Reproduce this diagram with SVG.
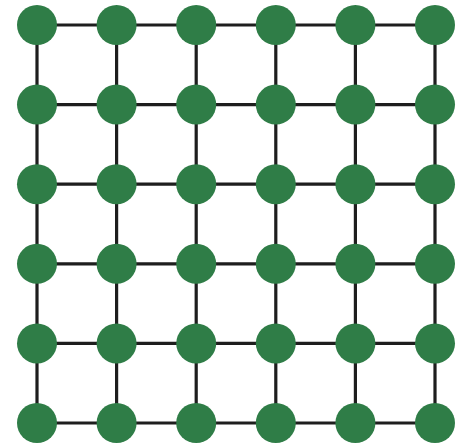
<svg xmlns="http://www.w3.org/2000/svg" width="472" height="448" viewBox="0 0 472 448">
<style>
.e{stroke:#1e1e1e;stroke-width:3.2;fill:none}
.n{fill:#2f7d47}
</style>
<rect width="472" height="448" fill="#ffffff"/>
<g id="connectors">
<path class="e" d="M37 25H435M37 104.6H435M37 184.2H435M37 263.8H435M37 343.4H435M37 423H435"/>
<path class="e" d="M37 25V423M116.6 25V423M196.2 25V423M275.8 25V423M355.4 25V423M435 25V423"/>
</g>
<g id="nodes">
<g id="n00"><circle class="n" cx="37" cy="25" r="20"/></g>
<g id="n01"><circle class="n" cx="116.6" cy="25" r="20"/></g>
<g id="n02"><circle class="n" cx="196.2" cy="25" r="20"/></g>
<g id="n03"><circle class="n" cx="275.8" cy="25" r="20"/></g>
<g id="n04"><circle class="n" cx="355.4" cy="25" r="20"/></g>
<g id="n05"><circle class="n" cx="435" cy="25" r="20"/></g>
<g id="n10"><circle class="n" cx="37" cy="104.6" r="20"/></g>
<g id="n11"><circle class="n" cx="116.6" cy="104.6" r="20"/></g>
<g id="n12"><circle class="n" cx="196.2" cy="104.6" r="20"/></g>
<g id="n13"><circle class="n" cx="275.8" cy="104.6" r="20"/></g>
<g id="n14"><circle class="n" cx="355.4" cy="104.6" r="20"/></g>
<g id="n15"><circle class="n" cx="435" cy="104.6" r="20"/></g>
<g id="n20"><circle class="n" cx="37" cy="184.2" r="20"/></g>
<g id="n21"><circle class="n" cx="116.6" cy="184.2" r="20"/></g>
<g id="n22"><circle class="n" cx="196.2" cy="184.2" r="20"/></g>
<g id="n23"><circle class="n" cx="275.8" cy="184.2" r="20"/></g>
<g id="n24"><circle class="n" cx="355.4" cy="184.2" r="20"/></g>
<g id="n25"><circle class="n" cx="435" cy="184.2" r="20"/></g>
<g id="n30"><circle class="n" cx="37" cy="263.8" r="20"/></g>
<g id="n31"><circle class="n" cx="116.6" cy="263.8" r="20"/></g>
<g id="n32"><circle class="n" cx="196.2" cy="263.8" r="20"/></g>
<g id="n33"><circle class="n" cx="275.8" cy="263.8" r="20"/></g>
<g id="n34"><circle class="n" cx="355.4" cy="263.8" r="20"/></g>
<g id="n35"><circle class="n" cx="435" cy="263.8" r="20"/></g>
<g id="n40"><circle class="n" cx="37" cy="343.4" r="20"/></g>
<g id="n41"><circle class="n" cx="116.6" cy="343.4" r="20"/></g>
<g id="n42"><circle class="n" cx="196.2" cy="343.4" r="20"/></g>
<g id="n43"><circle class="n" cx="275.8" cy="343.4" r="20"/></g>
<g id="n44"><circle class="n" cx="355.4" cy="343.4" r="20"/></g>
<g id="n45"><circle class="n" cx="435" cy="343.4" r="20"/></g>
<g id="n50"><circle class="n" cx="37" cy="423" r="20"/></g>
<g id="n51"><circle class="n" cx="116.6" cy="423" r="20"/></g>
<g id="n52"><circle class="n" cx="196.2" cy="423" r="20"/></g>
<g id="n53"><circle class="n" cx="275.8" cy="423" r="20"/></g>
<g id="n54"><circle class="n" cx="355.4" cy="423" r="20"/></g>
<g id="n55"><circle class="n" cx="435" cy="423" r="20"/></g>
</g>
</svg>
